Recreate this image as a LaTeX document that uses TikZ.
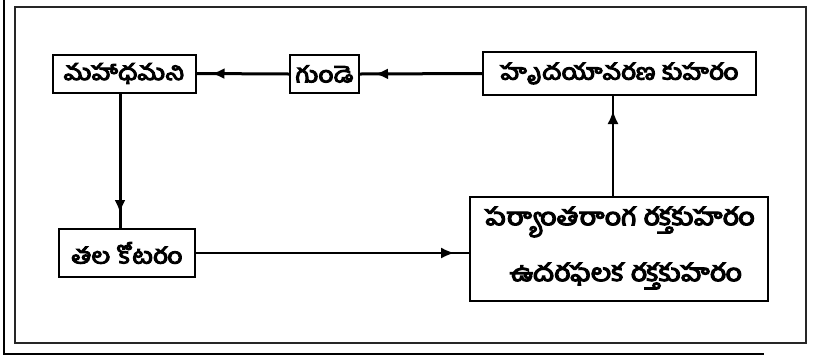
\documentclass[tikz,border=0pt]{standalone}
\usepackage{fontspec}
\newfontfamily\tel[Script=Telugu,FakeBold=5,FakeStretch=1.2]{Hind Guntur}
\usetikzlibrary{arrows.meta,decorations.markings}
\tikzset{
  label/.style={font=\tel\fontsize{22}{26}\selectfont},
  biglabel/.style={font=\tel\fontsize{24}{28}\selectfont},
  box/.style={draw=black,line width=2pt,inner sep=0pt,label},
  flow/.style={line width=#1,postaction={decorate},
    decoration={markings,mark=at position -15pt with {\arrow{Latex[length=13pt,width=11pt]}}}},
  flow/.default=1.5pt
}
\begin{document}
\begin{tikzpicture}[x=1pt,y=-1pt]
\useasboundingbox (0,0) rectangle (816,360);
% outer frame lines
\draw[line width=1.5pt] (4,0) -- (4,354) -- (764,354);
\draw[line width=2pt,black!85] (15,7) rectangle (806,343);
% boxes
\node[box,minimum width=143pt,minimum height=38pt] (aorta) at (124,73.5) {మహాధమని};
\node[box,minimum width=69pt,minimum height=38pt] (heart) at (324.5,74) {గుండె};
\node[box,minimum width=273pt,minimum height=43pt] (peri) at (619.5,73.5) {హృదయావరణ కుహరం};
\node[box,minimum width=136pt,minimum height=48pt] (head) at (127,253) {తల కోటరం};
\node[box,minimum width=298pt,minimum height=104pt] (body) at (619,249) {};
\node[biglabel] (l1) at (620,222) {పర్యాంతరాంగ రక్తకుహరం};
\node[biglabel] (l2) at (626,276) {ఉదరఫలక రక్తకుహరం};
% connectors
\draw[flow=3pt] (peri.west) -- (heart.east);
\draw[flow=3pt] (heart.west) -- (aorta.east);
\draw[flow=3pt] ([xshift=-4pt]aorta.south) -- ([xshift=-4pt]aorta.south |- head.north);
\draw[flow] (head.east) -- (head.east -| body.west);
\draw[flow] ([xshift=-6pt]body.north) -- ([xshift=-6pt]body.north |- peri.south);
\end{tikzpicture}
\end{document}
